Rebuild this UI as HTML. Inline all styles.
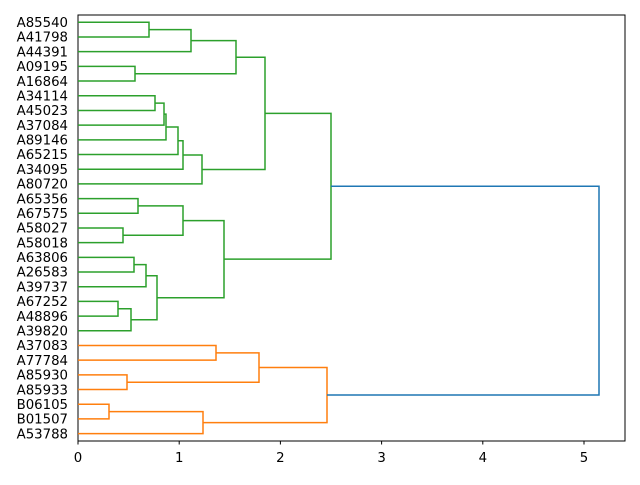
<!DOCTYPE html>
<html><head><meta charset="utf-8">
<style>
html,body{margin:0;padding:0;background:#fff;}
svg text{font-family:"DejaVu Sans","Liberation Sans",sans-serif;font-size:13.3px;fill:#000;}
</style></head>
<body>
<svg id="s" width="640" height="480" xmlns="http://www.w3.org/2000/svg">
<rect x="78" y="15" width="547" height="426" fill="none" stroke="#000" stroke-width="1"/>
</svg>
<script>
var s=document.getElementById('s'),NS='http://www.w3.org/2000/svg';
function Y(i){return 22.3+14.69*i;}
var labels=["A85540","A41798","A44391","A09195","A16864","A34114","A45023","A37084","A89146","A65215","A34095","A80720","A65356","A67575","A58027","A58018","A63806","A26583","A39737","A67252","A48896","A39820","A37083","A77784","A85930","A85933","B06105","B01507","A53788"];
labels.forEach(function(l,i){var t=document.createElementNS(NS,'text');t.setAttribute('x',68);t.setAttribute('y',Y(i)+4.7);t.setAttribute('text-anchor','end');t.textContent=l;s.appendChild(t);});
var G='#2ca02c',O='#ff7f0e',B='#1f77b4';
// [y1,x1,y2,x2,xjoin,color]
var L=[
[0,78,1,78,149,G],[0.5,149,2,78,191,G],[3,78,4,78,135,G],[1.25,191,3.5,135,236,G],
[5,78,6,78,155,G],[5.5,155,7,78,164,G],[6.25,164,8,78,166,G],[7.125,166,9,78,178,G],[8.06,178,10,78,183,G],[9.03,183,11,78,202,G],
[2.375,236,10.02,202,265,G],
[12,78,13,78,138,G],[14,78,15,78,123,G],[12.5,138,14.5,123,183,G],
[16,78,17,78,134,G],[16.5,134,18,78,146,G],[19,78,20,78,118,G],[19.5,118,21,78,131,G],[17.25,146,20.25,131,157,G],
[13.5,183,18.75,157,224,G],[6.2,265,16.125,224,331,G],
[22,78,23,78,216,O],[24,78,25,78,127,O],[22.5,216,24.5,127,259,O],[26,78,27,78,109,O],[26.5,109,28,78,203,O],[23.5,259,27.25,203,327,O],
[11.16,331,25.375,327,599,B]];
L.forEach(function(a){var p=document.createElementNS(NS,'path');
p.setAttribute('d','M'+a[1]+' '+Y(a[0])+'H'+a[4]+'V'+Y(a[2])+'H'+a[3]);
p.setAttribute('fill','none');p.setAttribute('stroke',a[5]);p.setAttribute('stroke-width','1.5');s.appendChild(p);});
for(var k=0;k<=5;k++){var x=78+101.2*k;var l=document.createElementNS(NS,'line');
l.setAttribute('x1',x);l.setAttribute('x2',x);l.setAttribute('y1',441);l.setAttribute('y2',444.5);l.setAttribute('stroke','#000');s.appendChild(l);
var t=document.createElementNS(NS,'text');t.setAttribute('x',x);t.setAttribute('y',462);t.setAttribute('text-anchor','middle');t.textContent=k;s.appendChild(t);}
</script>
</body></html>
